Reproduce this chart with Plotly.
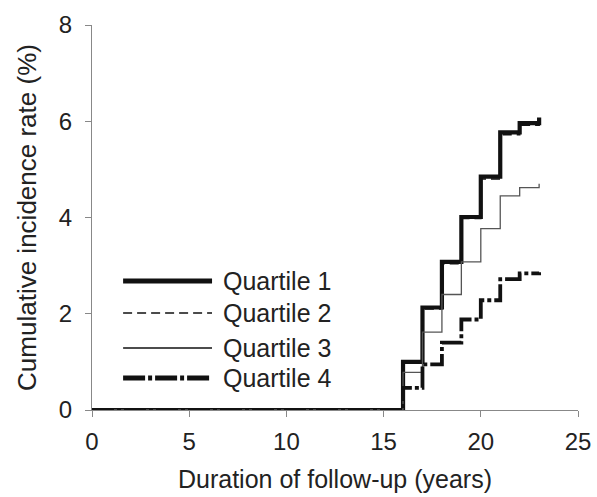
import plotly.graph_objects as go

# Data
years = [0, 16, 17, 18, 19, 20, 21, 22, 23]
q1 = [0, 1.00, 2.13, 3.08, 4.01, 4.85, 5.77, 5.96, 6.08]
q2 = [0, 0.97, 2.10, 3.04, 3.98, 4.80, 5.72, 5.92, 6.03]
q3 = [0, 0.78, 1.62, 2.40, 3.08, 3.77, 4.45, 4.62, 4.70]
q4 = [0, 0.46, 0.95, 1.40, 1.88, 2.28, 2.72, 2.84, 2.86]
names = ["Quartile 1", "Quartile 2", "Quartile 3", "Quartile 4"]
x_ticks = [0, 5, 10, 15, 20, 25]
y_ticks = [0, 2, 4, 6, 8]

styles = [
    dict(color="#111111", width=4.2, dash="solid"),
    dict(color="#111111", width=1.6, dash="9px,5px"),
    dict(color="#555555", width=1.3, dash="solid"),
    dict(color="#111111", width=3.8, dash="22px,3px,4px,3px"),
]
legend_styles = [
    dict(color="#111111", width=5, dash="solid"),
    dict(color="#111111", width=1.6, dash="9px,5px"),
    dict(color="#111111", width=1.6, dash="solid"),
    dict(color="#111111", width=5, dash="22px,3px,4px,3px"),
]

fig = go.Figure()
for ys, nm, st in zip([q1, q2, q3, q4], names, styles):
    fig.add_trace(go.Scatter(x=years, y=ys, mode="lines", name=nm,
                             line=dict(shape="hv", **st), showlegend=False))

font = dict(family="Liberation Sans, Arial, sans-serif", color="#222222")

# manual legend (wide line samples as in reference)
row_y = [0.335, 0.252, 0.161, 0.083]
shapes = []
annotations = []
for nm, st, ry in zip(names, legend_styles, row_y):
    shapes.append(dict(type="line", xref="paper", yref="paper",
                       x0=0.064, x1=0.247, y0=ry, y1=ry, line=st))
    annotations.append(dict(xref="paper", yref="paper", x=0.265, y=ry,
                            text=nm, showarrow=False, xanchor="left",
                            yanchor="middle", font=dict(size=25, **font)))

fig.update_layout(
    width=597, height=497,
    margin=dict(l=92, r=19, t=25, b=87),
    paper_bgcolor="white", plot_bgcolor="white",
    font=font,
    shapes=shapes, annotations=annotations,
    xaxis=dict(range=[0, 25], tickvals=x_ticks, showgrid=False, zeroline=False,
               showline=True, linecolor="#888888", linewidth=1.3,
               ticks="outside", ticklen=6, tickcolor="#888888", tickwidth=1.3,
               tickfont=dict(size=24, **font), ticklabelstandoff=4,
               automargin=False,
               title=dict(text="Duration of follow-up (years)",
                          font=dict(size=25, **font), standoff=16)),
    yaxis=dict(range=[0, 8], tickvals=y_ticks, showgrid=False, zeroline=False,
               showline=True, linecolor="#888888", linewidth=1.3,
               ticks="outside", ticklen=6, tickcolor="#888888", tickwidth=1.3,
               tickfont=dict(size=24, **font), ticklabelstandoff=8,
               automargin=False,
               title=dict(text="Cumulative incidence rate (%)",
                          font=dict(size=26, **font), standoff=14)),
)

fig.write_html("out.html")
